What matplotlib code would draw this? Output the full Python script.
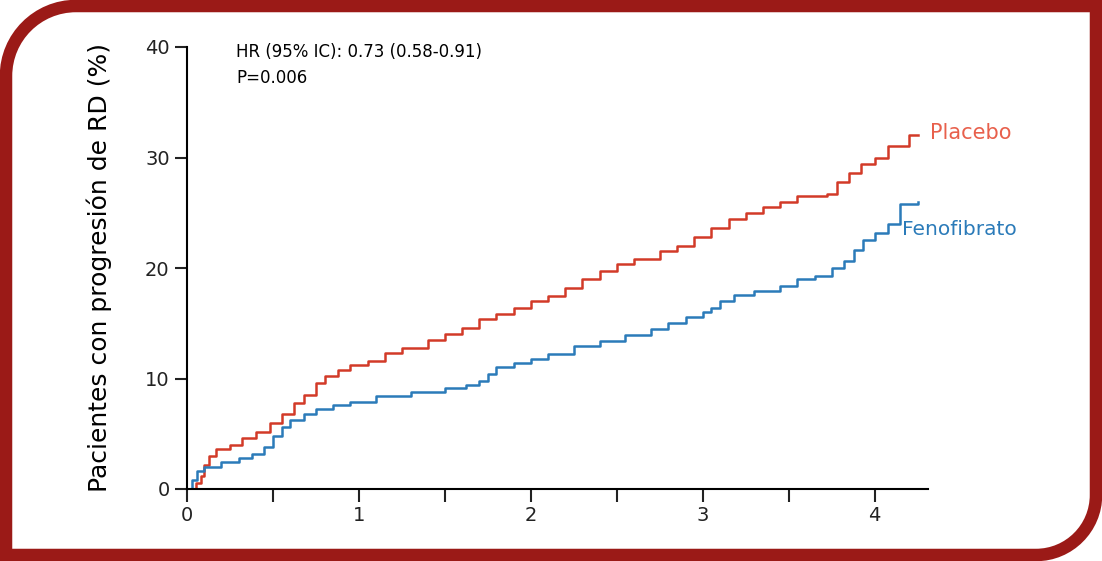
import matplotlib.pyplot as plt
from matplotlib.path import Path
from matplotlib.patches import PathPatch

# time in years, cumulative % with progression
placebo_t = [0, 0.05, 0.08, 0.1, 0.13, 0.17, 0.25, 0.32, 0.4, 0.48, 0.55, 0.62, 0.68, 0.75, 0.8,
             0.88, 0.95, 1.05, 1.15, 1.25, 1.4, 1.5, 1.6, 1.7, 1.8, 1.9, 2.0, 2.1, 2.2, 2.3,
             2.4, 2.5, 2.6, 2.75, 2.85, 2.95, 3.05, 3.15, 3.25, 3.35, 3.45, 3.55, 3.72, 3.78,
             3.85, 3.92, 4.0, 4.08, 4.2, 4.25]
placebo_y = [0, 0.5, 1.2, 2.2, 3.0, 3.6, 4.0, 4.6, 5.2, 6.0, 6.8, 7.8, 8.5, 9.6, 10.2,
             10.8, 11.2, 11.6, 12.3, 12.8, 13.5, 14.0, 14.6, 15.4, 15.8, 16.4, 17.0, 17.5, 18.2, 19.0,
             19.7, 20.4, 20.8, 21.5, 22.0, 22.8, 23.6, 24.4, 25.0, 25.5, 26.0, 26.5, 26.7, 27.8,
             28.6, 29.4, 30.0, 31.0, 32.0, 32.0]
feno_t = [0, 0.03, 0.06, 0.1, 0.2, 0.3, 0.38, 0.45, 0.5, 0.55, 0.6, 0.68, 0.75, 0.85, 0.95,
          1.1, 1.3, 1.5, 1.62, 1.7, 1.75, 1.8, 1.9, 2.0, 2.1, 2.25, 2.4, 2.55, 2.7, 2.8,
          2.9, 3.0, 3.05, 3.1, 3.18, 3.3, 3.45, 3.55, 3.65, 3.75, 3.82, 3.88, 3.93, 4.0,
          4.08, 4.15, 4.25]
feno_y = [0, 0.8, 1.6, 2.0, 2.4, 2.8, 3.2, 3.8, 4.8, 5.6, 6.2, 6.8, 7.2, 7.6, 7.9,
          8.4, 8.8, 9.1, 9.4, 9.8, 10.4, 11.0, 11.4, 11.8, 12.2, 12.9, 13.4, 13.9, 14.5, 15.0,
          15.6, 16.0, 16.4, 17.0, 17.6, 17.9, 18.4, 19.0, 19.3, 20.0, 20.6, 21.6, 22.5, 23.2,
          24.0, 25.8, 26.0]

red = '#d23a28'
blue = '#2b7bb9'

fig = plt.figure(figsize=(11.02, 5.61), dpi=100)
W, H = 1102, 561

# frame: rounded top-left and bottom-right corners
b = 6
r1, r2 = 70, 60
k = 0.5523
verts = [(b, b), (b, H - b - r1), (b, H - b - r1 * (1 - k)), (b + r1 * (1 - k), H - b), (b + r1, H - b),
         (W - b, H - b), (W - b, b + r2), (W - b, b + r2 * (1 - k)),
         (W - b - r2 * (1 - k), b), (W - b - r2, b), (b, b)]
codes = [Path.MOVETO, Path.LINETO, Path.CURVE4, Path.CURVE4, Path.CURVE4,
         Path.LINETO, Path.LINETO, Path.CURVE4, Path.CURVE4, Path.CURVE4, Path.CLOSEPOLY]
verts = [(x / W, y / H) for x, y in verts]
fig.patches.append(PathPatch(Path(verts, codes), transform=fig.transFigure,
                             fill=False, edgecolor='#9b1a17', linewidth=9))

ax = fig.add_axes([187 / W, 72 / H, 741 / W, 442 / H])
ax.step(placebo_t, placebo_y, where='post', color=red, lw=1.8)
ax.step(feno_t, feno_y, where='post', color=blue, lw=1.8)
ax.set_xlim(0, 4.31)
ax.set_ylim(0, 40)
ax.set_xticks([0, 1, 2, 3, 4])
ax.set_xticks([0.5, 1.5, 2.5, 3.5], minor=True)
ax.set_yticks([0, 10, 20, 30, 40])
for s in ['top', 'right']:
    ax.spines[s].set_visible(False)
ax.spines['left'].set_linewidth(1.5)
ax.spines['bottom'].set_linewidth(1.5)
ax.tick_params(which='both', direction='out', width=1.5, labelsize=14, colors='#222222')
ax.tick_params(which='major', length=9)
ax.tick_params(which='minor', length=9)
ax.set_ylabel('Pacientes con progresión de RD (%)', fontsize=18, labelpad=24)

fig.text(236 / W, 1 - 52 / H, 'HR (95% IC): 0.73 (0.58-0.91)', fontsize=12, va='center')
fig.text(236 / W, 1 - 78 / H, 'P=0.006', fontsize=12, va='center')
fig.text(930 / W, 1 - 133 / H, 'Placebo', fontsize=15, color='#e8604c', va='center')
fig.text(902 / W, 1 - 230 / H, 'Fenofibrato', fontsize=14.5, color=blue, va='center')

fig.savefig('out.png', dpi=100)
